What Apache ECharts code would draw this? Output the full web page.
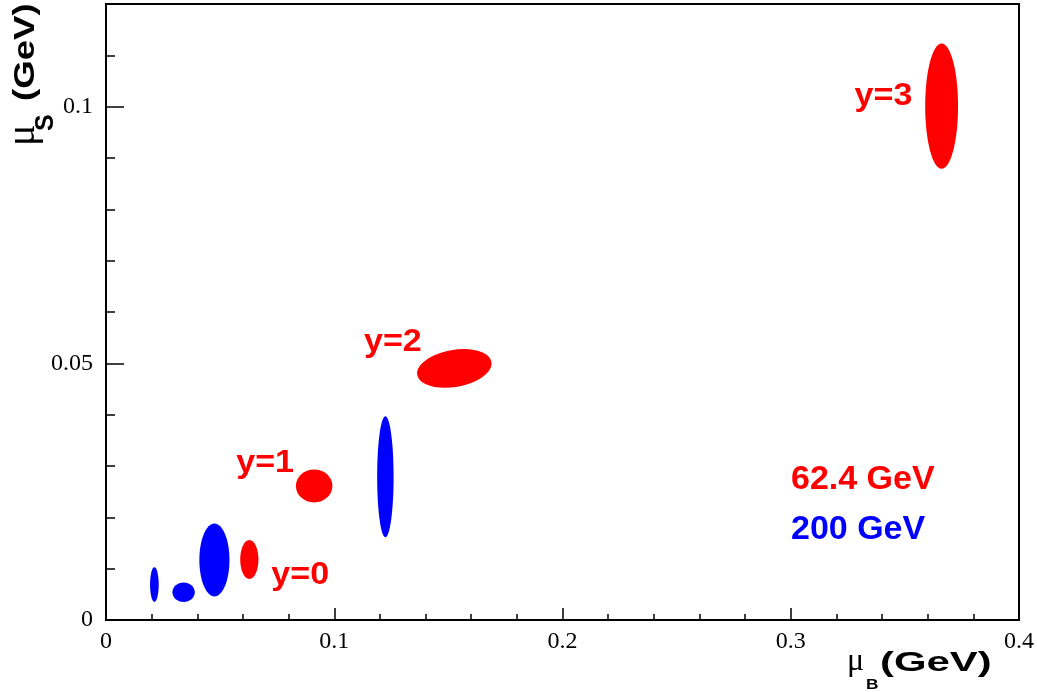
<!DOCTYPE html>
<html>
<head>
<meta charset="utf-8">
<script src="https://cdn.jsdelivr.net/npm/echarts@6/dist/echarts.min.js"></script>
<style>
html, body { margin: 0; padding: 0; background: #ffffff; }
#chart { width: 1037px; height: 692px; }
</style>
</head>
<body>
<div id="chart"></div>
<script>
// ---- data ----
const energies = ['62.4 GeV', '200 GeV'];

// 62.4 GeV: centre (muB, muS), half-widths and tilt (deg)
const redMuB  = [0.0628, 0.0912, 0.1526, 0.3661];
const redMuS  = [0.0118, 0.0261, 0.0490, 0.1001];
const redErrB = [0.0040, 0.0080, 0.0165, 0.0072];
const redErrS = [0.0038, 0.0032, 0.0036, 0.0122];
const redTilt = [0, 0, 10, 0];

// 200 GeV
const blueMuB  = [0.0212, 0.0340, 0.0475, 0.1224];
const blueMuS  = [0.0069, 0.0054, 0.0117, 0.0279];
const blueErrB = [0.0019, 0.0049, 0.0066, 0.0036];
const blueErrS = [0.0034, 0.0019, 0.0071, 0.0118];
const blueTilt = [0, 0, 0, 0];

// rapidity annotations (centre of text, data coords)
const rapidityLabels = ['y=0', 'y=1', 'y=2', 'y=3'];
const labelMuB = [0.0851, 0.0697, 0.1257, 0.3406];
const labelMuS = [0.0086, 0.0304, 0.0540, 0.1020];

// axes
const xMin = 0, xMax = 0.4, xStep = 0.1;
const yMin = 0, yMax = 0.12, yStep = 0.05, yMinorStep = 0.01;

// ---- build ----
function zip(a, b, c, d, e) { return a.map((v, i) => [v, b[i], c[i], d[i], e[i]]); }
const redData = zip(redMuB, redMuS, redErrB, redErrS, redTilt);
const blueData = zip(blueMuB, blueMuS, blueErrB, blueErrS, blueTilt);
const labelData = labelMuB.map((v, i) => [v, labelMuS[i]]);

function ellipseItem(params, api) {
  const c = api.coord([api.value(0), api.value(1)]);
  const s = api.size([api.value(2), api.value(3)]);
  return {
    type: 'ellipse',
    x: c[0], y: c[1],
    rotation: api.value(4) * Math.PI / 180,
    shape: { cx: 0, cy: 0, rx: s[0], ry: s[1] },
    style: { fill: api.visual('color') }
  };
}

function labelItem(params, api) {
  const c = api.coord([api.value(0), api.value(1)]);
  return {
    type: 'text',
    x: c[0], y: c[1],
    scaleX: 1.1,
    style: {
      text: rapidityLabels[params.dataIndex],
      x: 0, y: 0,
      align: 'center', verticalAlign: 'middle',
      fill: '#ff0000',
      font: 'bold 31px "Liberation Sans"'
    }
  };
}

const serifLabel = { fontFamily: 'Liberation Serif', fontSize: 24, color: '#000' };

const chart = echarts.init(document.getElementById('chart'), null, { renderer: 'canvas' });
chart.setOption({
  animation: false,
  backgroundColor: '#ffffff',
  grid: {
    left: 106, right: 18, top: 4, bottom: 72,
    show: true, borderColor: '#000', borderWidth: 2, backgroundColor: 'transparent'
  },
  xAxis: {
    type: 'value', min: xMin, max: xMax, interval: xStep,
    axisLine: { show: true, lineStyle: { color: '#000', width: 2 } },
    axisTick: { show: true, inside: true, length: 12, lineStyle: { color: '#000', width: 1.5 } },
    minorTick: { show: true, splitNumber: 5, length: 6, lineStyle: { color: '#000', width: 1.5 } },
    splitLine: { show: false },
    axisLabel: Object.assign({ margin: 22, verticalAlign: 'middle', showMinLabel: true, showMaxLabel: true }, serifLabel)
  },
  yAxis: [
    {
      type: 'value', min: yMin, max: yMax, interval: yStep, position: 'left',
      axisLine: { show: true, lineStyle: { color: '#000', width: 2 } },
      axisTick: { show: true, inside: true, length: 18, lineStyle: { color: '#000', width: 1.5 } },
      splitLine: { show: false },
      axisLabel: Object.assign({ margin: 13, verticalAlign: 'middle', padding: [6, 0, 0, 0], showMinLabel: true, showMaxLabel: false }, serifLabel)
    },
    {
      type: 'value', min: yMin, max: yMax, interval: yMinorStep, position: 'left',
      axisLine: { show: false },
      axisTick: { show: true, inside: true, length: 9, lineStyle: { color: '#000', width: 1.5 } },
      splitLine: { show: false },
      axisLabel: { show: false }
    }
  ],
  legend: {
    orient: 'vertical', left: 781, top: 458,
    itemWidth: 0, itemHeight: 34, itemGap: 16, icon: 'none', selectedMode: false,
    textStyle: { fontFamily: 'Liberation Sans', fontWeight: 'bold', fontSize: 34, lineHeight: 34 },
    data: [
      { name: energies[0], textStyle: { color: '#ff0000' } },
      { name: energies[1], textStyle: { color: '#0000ff' } }
    ]
  },
  series: [
    { name: energies[0], type: 'custom', coordinateSystem: 'cartesian2d', xAxisIndex: 0, yAxisIndex: 0,
      color: '#ff0000', renderItem: ellipseItem, data: redData, clip: false,
      encode: { x: 0, y: 1 } },
    { name: energies[1], type: 'custom', coordinateSystem: 'cartesian2d', xAxisIndex: 0, yAxisIndex: 0,
      color: '#0000ff', renderItem: ellipseItem, data: blueData, clip: false,
      encode: { x: 0, y: 1 } },
    { name: 'rapidity', type: 'custom', coordinateSystem: 'cartesian2d', xAxisIndex: 0, yAxisIndex: 0,
      renderItem: labelItem, data: labelData, clip: false, encode: { x: 0, y: 1 } }
  ],
  graphic: [
    { type: 'group', children: [
      { type: 'text', x: 847, y: 662, style: { text: 'μ', font: '32px "Liberation Serif"', fill: '#000', align: 'left', verticalAlign: 'middle' } },
      { type: 'text', x: 866, y: 685, scaleX: 1.15, style: { text: 'B', font: 'bold 15px "Liberation Sans"', fill: '#000', align: 'left', verticalAlign: 'middle' } },
      { type: 'text', x: 880, y: 664, scaleX: 1.55, style: { text: '(GeV)', font: 'bold 27px "Liberation Sans"', fill: '#000', align: 'left', verticalAlign: 'middle' } }
    ] },
    { type: 'group', x: 0, y: 150, rotation: Math.PI / 2, children: [
      { type: 'text', x: 4, y: 23, style: { text: 'μ', font: '40px "Liberation Serif"', fill: '#000', align: 'left', verticalAlign: 'middle' } },
      { type: 'text', x: 19, y: 46, style: { text: 'S', font: 'bold 25px "Liberation Sans"', fill: '#000', align: 'left', verticalAlign: 'middle' } },
      { type: 'text', x: 49, y: 26, scaleX: 1.22, style: { text: '(GeV)', font: 'bold 30px "Liberation Sans"', fill: '#000', align: 'left', verticalAlign: 'middle' } }
    ] }
  ]
});
</script>
</body>
</html>
